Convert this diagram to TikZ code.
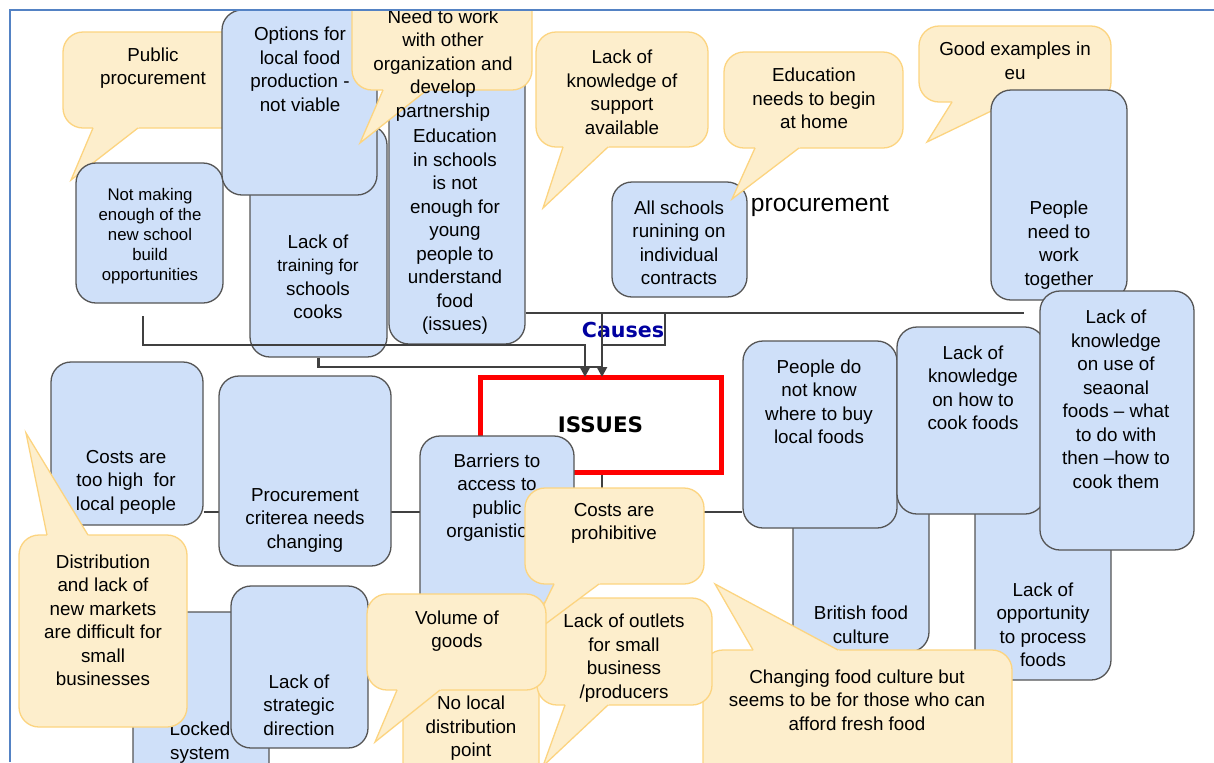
\documentclass[tikz,border=0pt]{standalone}
\usepackage{fontspec}
\setmainfont{Liberation Sans}
\newfontfamily\verdanaish{DejaVu Sans}
\usetikzlibrary{arrows.meta, positioning, calc, fit, backgrounds}
\definecolor{boxFill}{RGB}{207,224,249}
\definecolor{boxLine}{RGB}{85,85,85}
\definecolor{calloutFill}{RGB}{253,238,204}
\definecolor{calloutLine}{RGB}{252,212,128}
\definecolor{linkColor}{RGB}{64,64,64}
\definecolor{frameColor}{RGB}{84,130,196}
\definecolor{causesColor}{RGB}{0,0,160}

% tail of a speech bubble: base point, tip, base point
\newcommand{\calloutTail}[3]{%
  \fill[calloutFill] ($(#1)!-0.06!(#2)$) -- (#2) -- ($(#3)!-0.06!(#2)$) -- cycle;
  \draw[tailline] (#1) -- (#2) -- (#3);}

\begin{document}
\begin{tikzpicture}[
    x=0.5pt, y=-0.5pt,
    causebox/.style={draw=boxLine, fill=boxFill, line width=0.65pt, rounded corners=10pt, inner sep=0pt},
    callout/.style={draw=calloutLine, fill=calloutFill, line width=0.65pt, rounded corners=10pt, inner sep=0pt},
    tailline/.style={draw=calloutLine, line width=0.65pt},
    txt/.style={align=center, inner sep=0pt, text=black, yshift=-1pt, font=\fontsize{9.4}{11.75}\selectfont},
    smalltxt/.style={txt, font=\fontsize{8.4}{10}\selectfont},
    link/.style={draw=linkColor, line width=1.25pt},
    arrowend/.style={-{Triangle[width=5pt,length=5pt]}},
    issuebox/.style={draw=red, line width=2.5pt, fill=white, outer sep=0pt, minimum width=120.5pt, minimum height=47.5pt, font=\verdanaish\bfseries\fontsize{10.7}{12}\selectfont},
    frameline/.style={draw=frameColor, line width=1pt}
]
\useasboundingbox (0,0) rectangle (1214,762);

\begin{scope}
\clip (10,10) rectangle (1214,762);

% central problem
\node[issuebox] (issues) at (600.5,424.5) {ISSUES};

% top left group
\node[callout, fit={(63,32) (243,128)}] (pubproc) {};
\calloutTail{93,128}{71,180}{138,128}
\node[txt] (pubprocT) at (153,66) {Public\\procurement};

\node[causebox, fit={(76,163) (223,303)}] (notmaking) {};
\node[smalltxt] (notmakingT) at (150,234) {Not making\\enough of the\\new school\\build\\opportunities};

\node[causebox, fit={(250,125) (387,357)}] (training) {};
\node[txt] (trainingT) at (318,275) {Lack of\\{\fontsize{8.6}{11.75}\selectfont training for}\\schools\\cooks};

\node[causebox, fit={(222,10) (377,195)}] (options) {};
\node[txt] (optionsT) at (300,67.5) {Options for\\local food\\production -\\not viable};

\node[causebox, fit={(389,60) (525,344)}] (education) {};
\node[txt] (educationT) at (455,230) {Education\\in schools\\is not\\enough for\\young\\people to\\understand\\food\\(issues)};

\node[callout, fit={(352,-30) (532,90)}] (partner) {};
\calloutTail{383,90}{360,143}{427,90}
\node[txt] (partnerT) at (443,63.5) {Need to work\\with other\\organization and\\develop\\partnership};

% top middle group
\node[callout, fit={(536,32) (708,147)}] (support) {};
\calloutTail{563,147}{543,208}{608,147}
\node[txt] (supportT) at (622,90.5) {Lack of\\knowledge of\\support\\available};

\node[causebox, fit={(612,182) (747,297)}] (contracts) {};
\node[txt] (contractsT) at (679,241) {All schools\\runining on\\individual\\contracts};

\node[callout, fit={(724,52) (903,148)}] (home) {};
\calloutTail{755,148}{732,199}{799,148}
\node[txt] (homeT) at (814,96.5) {Education\\needs to begin\\at home};

\node[txt, font=\fontsize{12.3}{14}\selectfont] (procword) at (820,204) {procurement};

% top right group
\node[callout, fit={(919,26) (1111,102)}] (goodeu) {};
\calloutTail{952,102}{927,142}{1010,102}
\node[txt] (goodeuT) at (1015,59) {Good examples in\\eu};

\node[causebox, fit={(991,90) (1127,300)}] (together) {};
\node[txt] (togetherT) at (1059,243) {People\\need to\\work\\together};

% right group
\node[causebox, fit={(793,480) (929,652)}] (british) {};
\node[txt] (britishT) at (861,623) {British food\\culture};
\node[causebox, fit={(975,480) (1111,680)}] (process) {};
\node[txt] (processT) at (1043,623) {Lack of\\opportunity\\to process\\foods};
\node[causebox, fit={(743,341) (897,528)}] (wherebuy) {};
\node[txt] (wherebuyT) at (819,400) {People do\\not know\\where to buy\\local foods};
\node[causebox, fit={(897,327) (1045,514)}] (howcook) {};
\node[txt] (howcookT) at (973,386) {Lack of\\knowledge\\on how to\\cook foods};
\node[causebox, fit={(1040,291) (1194,550)}] (seasonal) {};
\node[txt] (seasonalT) at (1116,397.5) {Lack of\\knowledge\\on use of\\seaonal\\foods – what\\to do with\\then –how to\\cook them};

% left lower group
\node[causebox, fit={(51,362) (203,525)}] (costhigh) {};
\node[txt] (costhighT) at (126,480) {Costs are\\too high\ \ for\\local people};
\node[causebox, fit={(133,612) (269,800)}] (locked) {};
\node[txt] (lockedT) at (200,740.5) {Locked\\system};
\node[callout, fit={(19,535) (187,727)}] (distrib) {};
\calloutTail{47,535}{26,433}{88,535}
\node[txt] (distribT) at (103,618.5) {Distribution\\and lack of\\new markets\\are difficult for\\small\\businesses};
\node[causebox, fit={(231,586) (368,748)}] (strategic) {};
\node[txt] (strategicT) at (299,703) {Lack of\\strategic\\direction};
\node[causebox, fit={(219,376) (391,566)}] (criteria) {};
\node[txt] (criteriaT) at (305,518) {Procurement\\criterea needs\\changing};

% middle lower group
\node[causebox, fit={(420,436) (574,640)}] (barriers) {};
\node[txt] (barriersT) at (497,495.5) {Barriers to\\access to\\public\\organistions};
\node[callout, fit={(403,660) (539,800)}] (nolocal) {};
\node[txt] (nolocalT) at (471,726.5) {No local\\distribution\\point};
\node[callout, fit={(703,650) (1012,800)}] (changing) {};
\calloutTail{753,650}{715,584}{838,650}
\node[txt] (changingT) at (857,698) {Changing food culture but\\seems to be for those who can\\afford fresh food};
\node[callout, fit={(537,598) (712,705)}] (outlets) {};
\calloutTail{565,705}{543,766}{608,705}
\node[txt] (outletsT) at (624,656) {Lack of outlets\\for small\\business\\/producers};
\node[callout, fit={(525,488) (704,584)}] (prohibit) {};
\calloutTail{554,584}{528,637}{599,584}
\node[txt] (prohibitT) at (614,521.5) {Costs are\\prohibitive};
\node[callout, fit={(367,594) (546,690)}] (volume) {};
\calloutTail{397,690}{375,742}{440,690}
\node[txt] (volumeT) at (457,629) {Volume of\\goods};

% causes label and links
\node[font=\verdanaish\bfseries\fontsize{10.3}{12}\selectfont, text=causesColor, inner sep=0pt] (causes) at (623,330) {Causes};
\coordinate (causeTop) at (602,313);
\coordinate (topEnd) at (1024,313);
\coordinate (causeBoxR) at (665,313);
\coordinate (causeBoxB) at (665,345);
\coordinate (leftStart) at (143,316);
\coordinate (leftJoin) at (585,345);
\coordinate (midJoin) at (602,367);
\coordinate (lowJoin) at (602,512);

\draw[link] (education.east |- causeTop) -- (topEnd);
\draw[link] (causeBoxR) -- (causeBoxB) -- (causeBoxB -| causeTop);
\draw[link] (training.south) |- (midJoin);
\draw[link, arrowend] (leftStart) |- (leftJoin) -- (leftJoin |- issues.north);
\draw[link, arrowend] (causeTop) -- (causeTop |- issues.north);
\end{scope}

% links behind the boxes
\begin{scope}[on background layer]
\draw[link] (costhigh.east |- lowJoin) -- (wherebuy.west |- lowJoin);
\draw[link] (issues.south -| lowJoin) -- (lowJoin);
\end{scope}

\draw[frameline] (10,762) -- (10,10) -- (1214,10);
\end{tikzpicture}
\end{document}
